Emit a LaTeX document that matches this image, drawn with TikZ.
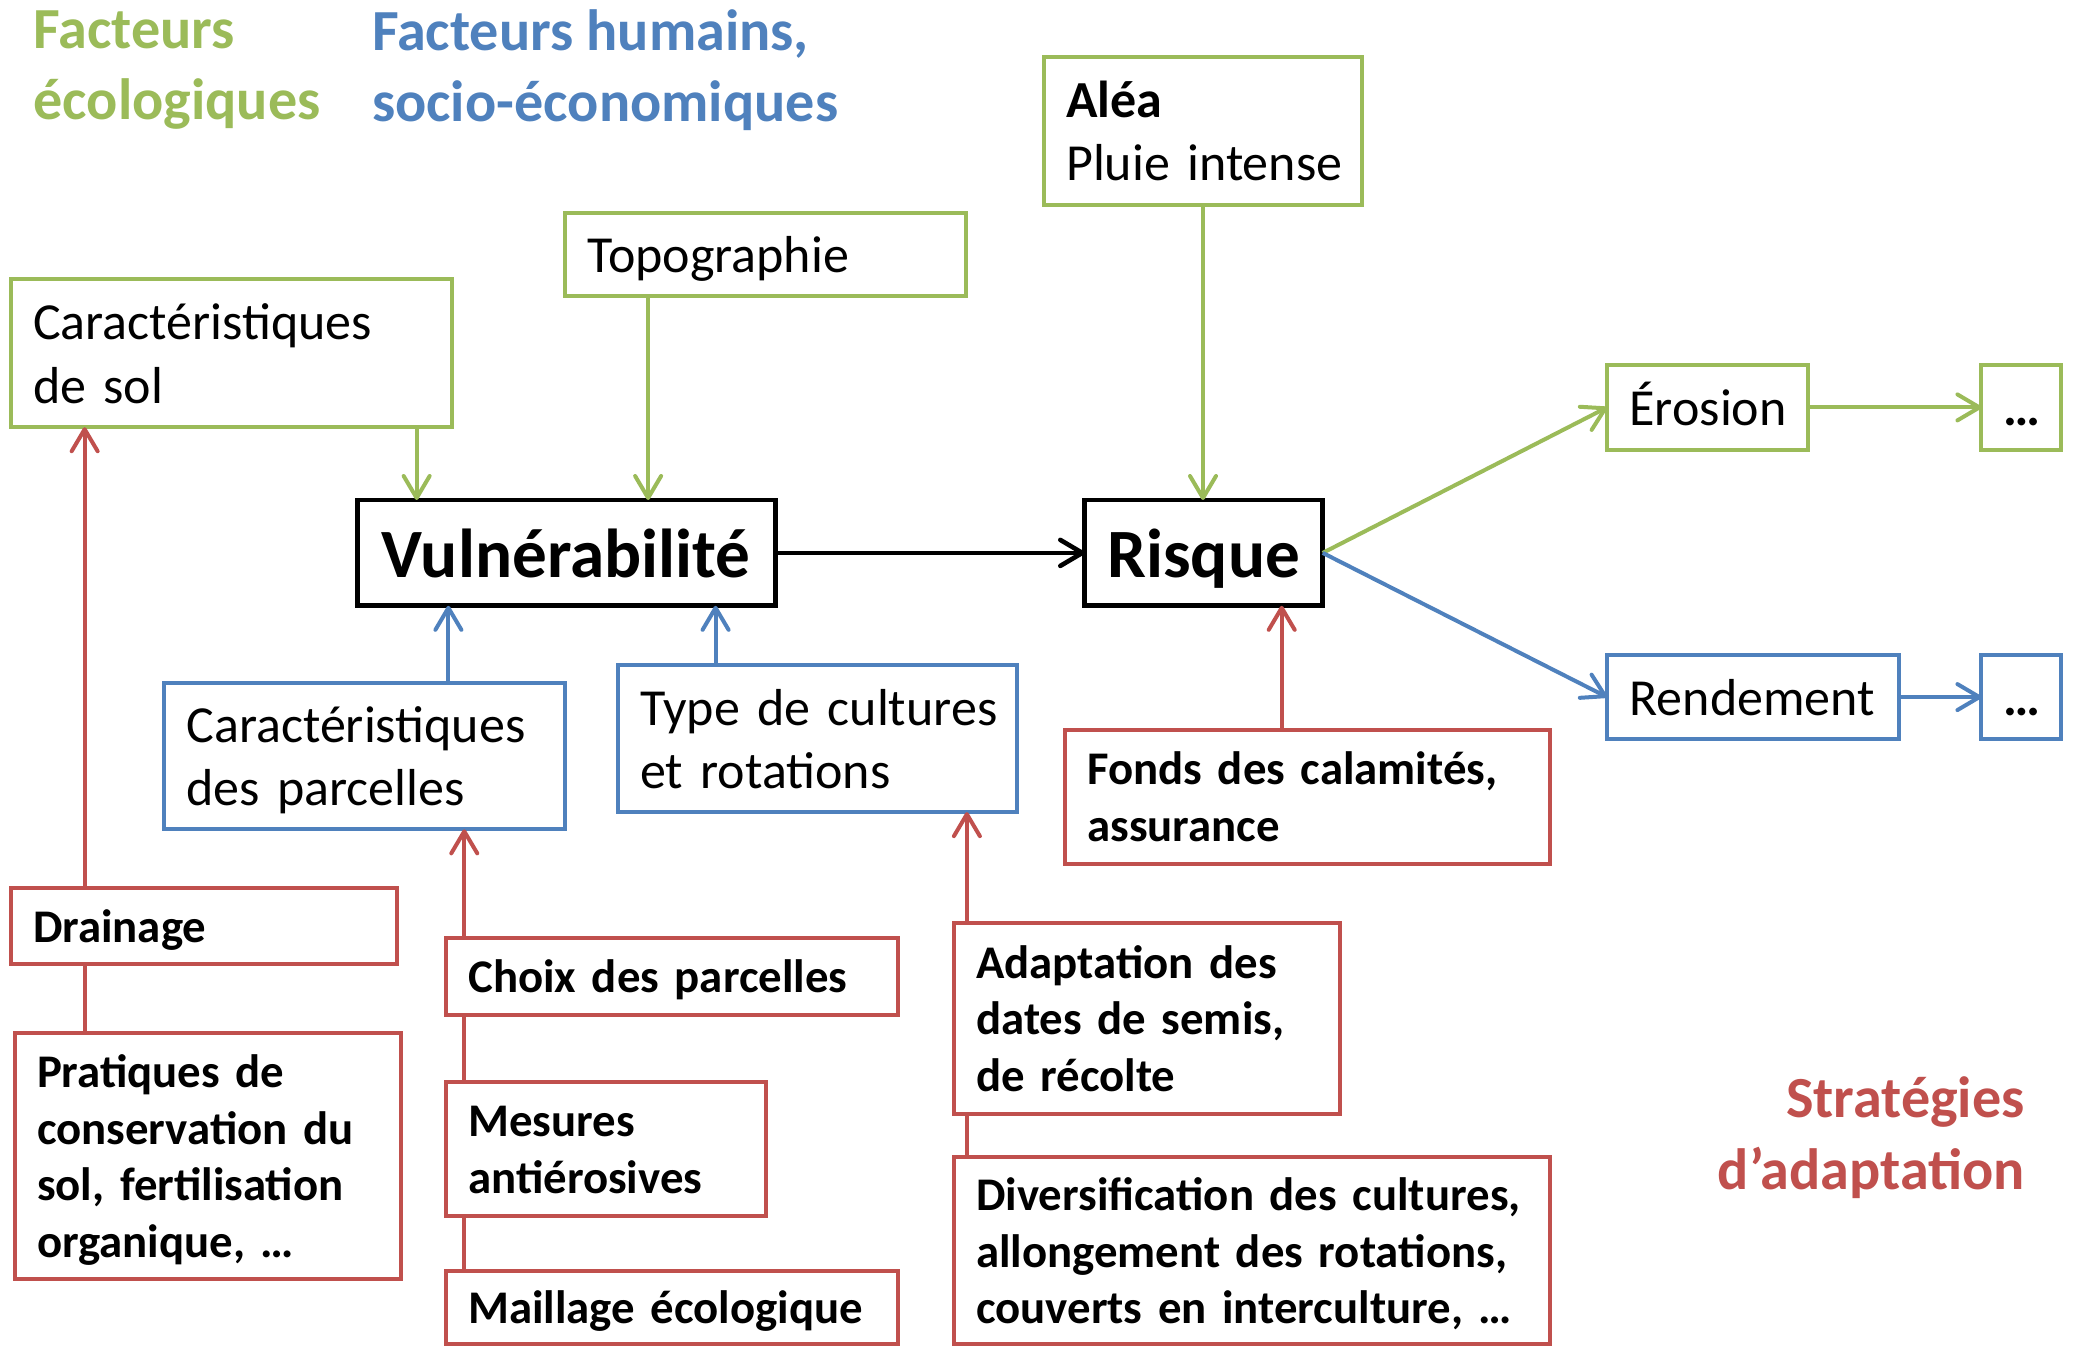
\documentclass[tikz,border=0pt]{standalone}
\usepackage{fontspec}
\setmainfont{Carlito}
\usetikzlibrary{arrows.meta}
\definecolor{cgreen}{HTML}{9BBB59}
\definecolor{cblue}{HTML}{4F81BD}
\definecolor{cred}{HTML}{C0504D}
\hyphenpenalty=10000
\exhyphenpenalty=10000
\newcommand\bodyfont{\fontsize{26}{31.7}\selectfont}
\newcommand\redfont{\fontsize{23.4}{28.4}\selectfont\bfseries}
\newcommand\bigfont{\fontsize{34.6}{42}\selectfont\bfseries}
\newcommand\titlefont{\fontsize{29.1}{35.7}\selectfont\bfseries}
\newcommand\mkbox[7]{%
  \pgfmathsetmacro\bw{(#4-#2)*0.66135}%
  \pgfmathsetmacro\bh{(#5-#3)*0.66135}%
  \pgfmathsetmacro\tw{(#4-#2)*0.66135-22.5}%
  \node[#6, anchor=north west, minimum width=\bw pt, minimum height=\bh pt, text width=\tw pt] (#1) at (#2,#3) {\hyphenpenalty=10000\rule{0pt}{0.96em}#7\rule[-0.26em]{0pt}{0pt}};%
}
\tikzset{
  boxbase/.style={rectangle, outer sep=0pt, inner xsep=11.25pt, inner ysep=0pt, align=left, line width=2pt},
  gbox/.style={boxbase, draw=cgreen, font=\bodyfont},
  bbox/.style={boxbase, draw=cblue, font=\bodyfont},
  rbox/.style={boxbase, draw=cred, font=\redfont},
  kbox/.style={boxbase, draw=black, line width=2.4pt, font=\bigfont, align=center},
  dbox/.style={boxbase, font=\bodyfont\bfseries, align=center},
  barbtip/.style={-{Straight Barb[length=11pt,width=13pt,round]}},
  gconn/.style={draw=cgreen, line width=2pt},
  bconn/.style={draw=cblue, line width=2pt},
  rconn/.style={draw=cred, line width=2pt},
  kconn/.style={draw=black, line width=2.3pt},
}
\begin{document}
\begin{tikzpicture}[x=0.66135pt, y=-0.66135pt]
\useasboundingbox (0,0) rectangle (1568,1018);

% titles
\node[anchor=west, align=left, inner sep=0pt, text=cgreen, font=\titlefont] (t1) at (25,53) {Facteurs\\écologiques};
\node[anchor=west, align=left, inner sep=0pt, text=cblue, font=\titlefont] (t2) at (281,53) {Facteurs humains,\\socio-économiques};
\node[anchor=east, align=right, inner sep=0pt, text=cred, font=\titlefont] (t3) at (1531,860) {Stratégies\\d’adaptation};

% boxes
\mkbox{sol}{8}{211}{342}{323}{gbox}{Caractéristiques\\\mbox{de sol}}
\mkbox{top}{427}{161}{730}{224}{gbox}{Topographie}
\mkbox{ale}{789}{43}{1030}{155}{gbox}{\textbf{Aléa}\\\mbox{Pluie intense}}
\mkbox{vul}{270}{378}{586}{458}{kbox}{Vulnérabilité}
\mkbox{ris}{820}{378}{1000}{458}{kbox}{Risque}
\mkbox{ero}{1215}{276}{1367}{340}{gbox}{Érosion}
\mkbox{dA}{1498}{276}{1558}{340}{dbox, draw=cgreen}{…}
\mkbox{ren}{1215}{495}{1436}{559}{bbox}{Rendement}
\mkbox{dB}{1498}{495}{1558}{559}{dbox, draw=cblue}{…}
\mkbox{par}{124}{516}{427}{627}{bbox}{Caractéristiques\\\mbox{des parcelles}}
\mkbox{typ}{467}{503}{769}{614}{bbox}{\mbox{Type de cultures}\\\mbox{et rotations}}
\mkbox{fon}{805}{552}{1172}{653}{rbox}{\mbox{Fonds des calamités,}\\assurance}
\mkbox{dra}{8}{671}{300}{729}{rbox}{Drainage}
\mkbox{pra}{11}{781}{303}{967}{rbox}{\mbox{Pratiques de}\\\mbox{conservation du}\\\mbox{sol, fertilisation}\\\mbox{organique, …}}
\mkbox{cho}{337}{709}{679}{767}{rbox}{\mbox{Choix des parcelles}}
\mkbox{mes}{337}{818}{579}{919}{rbox}{Mesures\\antiérosives}
\mkbox{mai}{337}{961}{679}{1016}{rbox}{\mbox{Maillage écologique}}
\mkbox{ada}{721}{698}{1013}{842}{rbox}{\mbox{Adaptation des}\\\mbox{dates de semis,}\\\mbox{de récolte}}
\mkbox{div}{721}{875}{1172}{1016}{rbox}{\mbox{Diversification des cultures,}\\\mbox{allongement des rotations,}\\\mbox{couverts en interculture, …}}

% green connectors
\draw[gconn, barbtip] (315,0 |- sol.south) -- (315,0 |- vul.north);
\draw[gconn, barbtip] (490,0 |- top.south) -- (490,0 |- vul.north);
\draw[gconn, barbtip] (ale.south) -- (ale.south |- ris.north);
\draw[gconn, barbtip] (ris.east) -- (ero.west);
\draw[gconn, barbtip] (ero.east) -- (dA.west);
% black
\draw[kconn, barbtip] (vul.east) -- (ris.west);
% blue
\draw[bconn, barbtip] (ris.east) -- (ren.west);
\draw[bconn, barbtip] (ren.east) -- (dB.west);
\draw[bconn, barbtip] (339,0 |- par.north) -- (339,0 |- vul.south);
\draw[bconn, barbtip] (541,0 |- typ.north) -- (541,0 |- vul.south);
% red
\draw[rconn, barbtip] (969,0 |- fon.north) -- (969,0 |- ris.south);
\draw[rconn, barbtip] (64,0 |- dra.north) -- (64,0 |- sol.south);
\draw[rconn] (64,0 |- pra.north) -- (64,0 |- dra.south);
\draw[rconn, barbtip] (351,0 |- cho.north) -- (351,0 |- par.south);
\draw[rconn] (351,0 |- mes.north) -- (351,0 |- cho.south);
\draw[rconn] (351,0 |- mai.north) -- (351,0 |- mes.south);
\draw[rconn, barbtip] (731,0 |- ada.north) -- (731,0 |- typ.south);
\draw[rconn] (731,0 |- div.north) -- (731,0 |- ada.south);
\end{tikzpicture}
\end{document}
